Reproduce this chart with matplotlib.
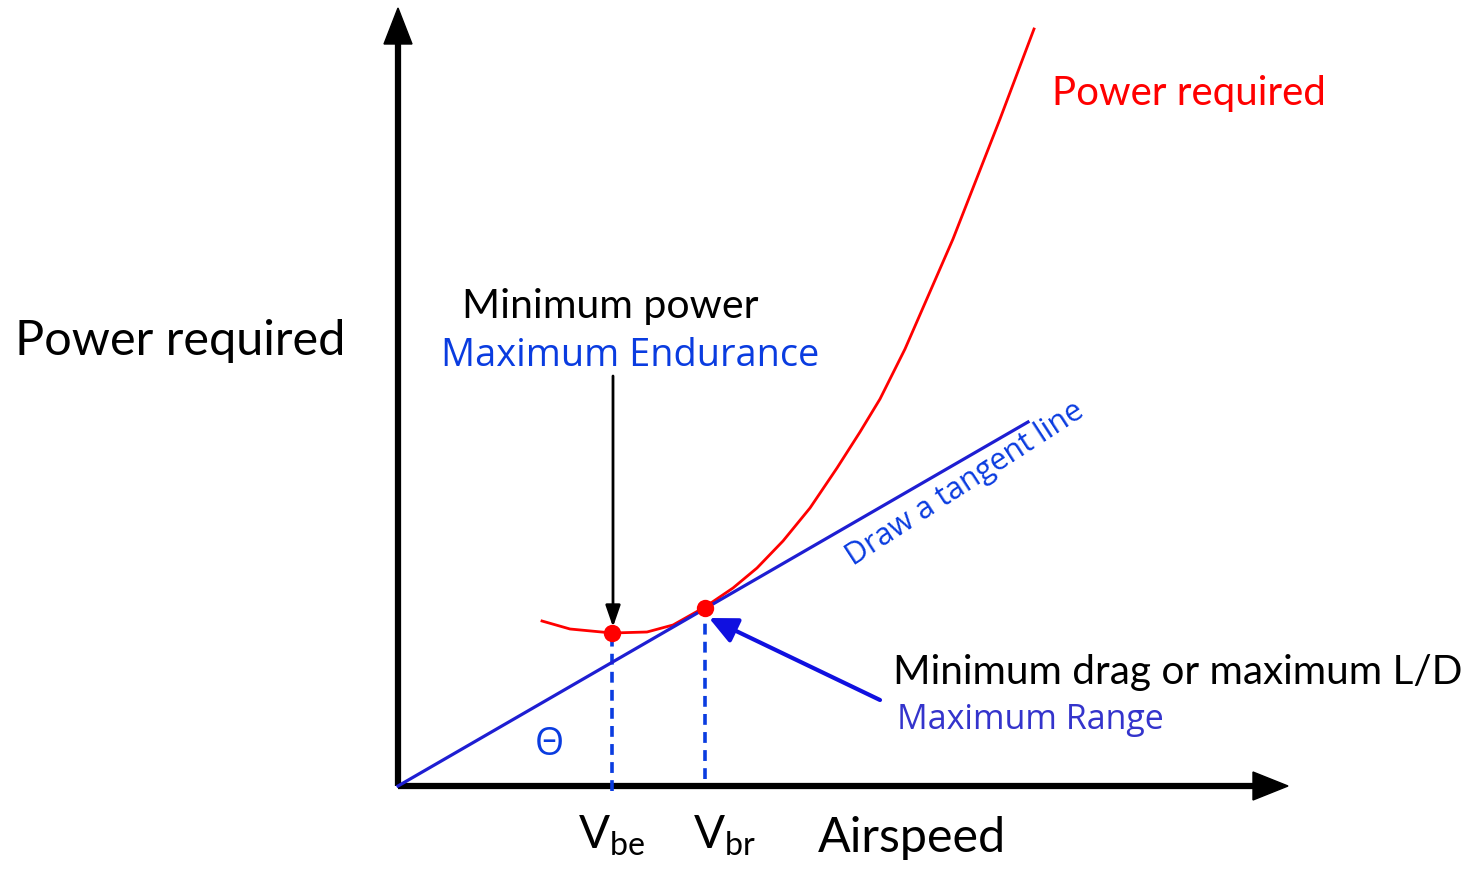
import numpy as np
import matplotlib.pyplot as plt

# Power-required curve (airspeed, power) in pixel units from the origin
airspeed = [144, 172, 214, 249, 275, 307, 335, 359, 385, 412, 439, 462, 482, 507, 531, 555, 602, 636]
power = [165, 157, 153, 154, 161, 179, 198, 218, 245, 278, 318, 354, 387, 437, 492, 547, 667, 757]

tangent_x = [0, 630]
tangent_y = [0, 364]

v_be = 214
v_br = 307
p_be = 153
p_br = 178

RED = '#ff0000'
BLUE = '#0a3ce0'
LINE_BLUE = '#1e1ed2'

fig = plt.figure(figsize=(14.72, 8.70), dpi=100)
ax = fig.add_axes([0, 0, 1, 1])
ax.set_xlim(-398, 1074)
ax.set_ylim(-83, 787)
ax.axis('off')

# axes arrows
ax.plot([0, 0], [0, 745], color='black', lw=4.5, solid_capstyle='butt', zorder=3)
ax.plot([0, 860], [0, 0], color='black', lw=4.5, solid_capstyle='butt', zorder=3)
ax.fill([-14, 14, 0], [742, 742, 778], color='black', zorder=3)
ax.fill([855, 855, 890], [14, -14, 0], color='black', zorder=3)

# power required curve and tangent
ax.plot(airspeed, power, color=RED, lw=2, solid_joinstyle='round', zorder=4)
ax.plot(tangent_x, tangent_y, color=LINE_BLUE, lw=2.3, zorder=4)

# dashed guides
ax.plot([v_be, v_be], [-5, p_be], color=BLUE, lw=2.6, ls=(0, (3, 2)), zorder=3)
ax.plot([v_br, v_br], [7, p_br], color=BLUE, lw=2.6, ls=(0, (3, 2)), zorder=3)

ax.plot([v_be, v_br], [p_be, p_br], 'o', color=RED, ms=12.5, mec='none', zorder=6)

# annotation arrows
ax.annotate('', xy=(v_be + 1, p_be + 6), xytext=(v_be + 1, 410),
            arrowprops=dict(arrowstyle='-|>,head_length=1.3,head_width=0.45',
                            color='black', lw=2, shrinkA=0, shrinkB=0))
ax.annotate('', xy=(v_br + 4, p_br - 10), xytext=(482, 86),
            arrowprops=dict(arrowstyle='-|>,head_length=1.7,head_width=0.8',
                            color='#1010e0', lw=3, shrinkA=0, shrinkB=0))

# labels
ax.text(-383, 446, 'Power required', fontsize=35, family='Lato', va='center', ha='left')
ax.text(654, 694, 'Power required', fontsize=29, family='Lato', color=RED, va='center', ha='left')
ax.text(64, 480, 'Minimum power', fontsize=29.5, family='Lato', va='center', ha='left')
ax.text(43, 431, 'Maximum Endurance', fontsize=27.3, family='Open Sans', color=BLUE,
        va='center', ha='left')
ax.text(495, 114, 'Minimum drag or maximum L/D', fontsize=29.2, family='Lato', va='center', ha='left')
ax.text(499, 67, 'Maximum Range', fontsize=24.5, family='Open Sans', color='#3434cc',
        va='center', ha='left')
ax.text(455, 221, 'Draw a tangent line', fontsize=22, family='Open Sans', color=BLUE,
        rotation=33, rotation_mode='anchor', ha='left', va='baseline')
ax.text(151, 42, 'Θ', fontsize=27, family='Open Sans', color=BLUE, va='center', ha='center')
ax.text(180, -62, r'V$_{\mathregular{be}}$', fontsize=33, family='Lato', va='baseline', ha='left')
ax.text(295, -62, r'V$_{\mathregular{br}}$', fontsize=33, family='Lato', va='baseline', ha='left')
ax.text(420, -51, 'Airspeed', fontsize=34.8, family='Lato', va='center', ha='left')

fig.savefig('out.png', dpi=100, facecolor='white')
